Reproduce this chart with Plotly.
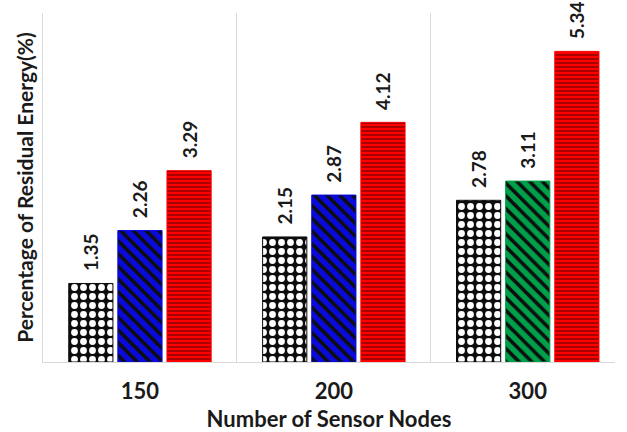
import plotly.graph_objects as go

categories = ["150", "200", "300"]
series_a = [1.35, 2.15, 2.78]
series_b = [2.26, 2.87, 3.11]
series_c = [3.29, 4.12, 5.34]
labels_a = ["1.35", "2.15", "2.78"]
labels_b = ["2.26", "2.87", "3.11"]
labels_c = ["3.29", "4.12", "5.34"]

colors_b = ["#0a0adc", "#0a0adc", "#00a04a"]

FONT = "Lato"
# transparent spacer so the value sits a little above its bar
pad = "<span style='color:rgba(0,0,0,0)'>.:</span>"

def txt(lbls):
    return [pad + t for t in lbls]

fig = go.Figure()
fig.add_trace(go.Bar(
    x=categories, y=series_a, text=txt(labels_a), offsetgroup="a",
    marker=dict(color="#0d0d0d", line=dict(color="#0d0d0d", width=1),
                pattern=dict(shape=".", bgcolor="#0d0d0d", fgcolor="#ffffff",
                             fgopacity=1, size=9, solidity=0.45)),
))
# second series: one trace per colour so each pattern gets scalar colours
for col in dict.fromkeys(colors_b):
    idx = [i for i, c in enumerate(colors_b) if c == col]
    fig.add_trace(go.Bar(
        x=[categories[i] for i in idx], y=[series_b[i] for i in idx],
        text=txt([labels_b[i] for i in idx]), offsetgroup="b",
        marker=dict(color=col, line=dict(color=col, width=1),
                    pattern=dict(shape="\\", bgcolor=col, fgcolor="#0d0d0d",
                                 fgopacity=1, size=9, solidity=0.4)),
    ))
fig.add_trace(go.Bar(
    x=categories, y=series_c, text=txt(labels_c), offsetgroup="c",
    marker=dict(color="#ff0000", line=dict(color="#ff0000", width=1),
                pattern=dict(shape="-", bgcolor="#ff0000", fgcolor="#3a0000",
                             fgopacity=1, size=4, solidity=0.22)),
))

fig.update_traces(textposition="outside", textangle=-90, cliponaxis=False,
                  constraintext="none", texttemplate="%{text}",
                  textfont=dict(family=FONT, size=19, weight="bold", color="#1a1a1a"))

fig.update_layout(
    width=627, height=432,
    margin=dict(l=43, r=12, t=13, b=70),
    paper_bgcolor="white", plot_bgcolor="white",
    barmode="group", bargap=0.24, bargroupgap=0.1,
    showlegend=False,
    font=dict(family=FONT, color="#1a1a1a"),
    xaxis=dict(
        type="category", categoryorder="array", categoryarray=categories,
        range=[-0.5, 2.45], automargin=False,
        tickson="boundaries", showgrid=True, gridcolor="#d9d9d9", gridwidth=1,
        ticks="", showline=True, linecolor="#d9d9d9", linewidth=1,
        ticklabelstandoff=10,
        tickprefix="<b>", ticksuffix="</b>",
        tickfont=dict(family=FONT, size=22, color="#1a1a1a"),
        title=dict(text="<b>Number of Sensor Nodes</b>",
                   font=dict(family=FONT, size=22, color="#1a1a1a"), standoff=15),
    ),
    yaxis=dict(
        range=[0, 6], showgrid=False, showticklabels=False, ticks="",
        automargin=False,
        zeroline=False, showline=True, linecolor="#d9d9d9", linewidth=1,
        title=dict(text="<b>Percentage of Residual Energy(%)</b>",
                   font=dict(family=FONT, size=21, color="#1a1a1a"), standoff=2),
    ),
)

fig.write_html("out.html", config={"displayModeBar": False},
               post_script="document.body.style.margin='0';document.body.style.padding='0';")
